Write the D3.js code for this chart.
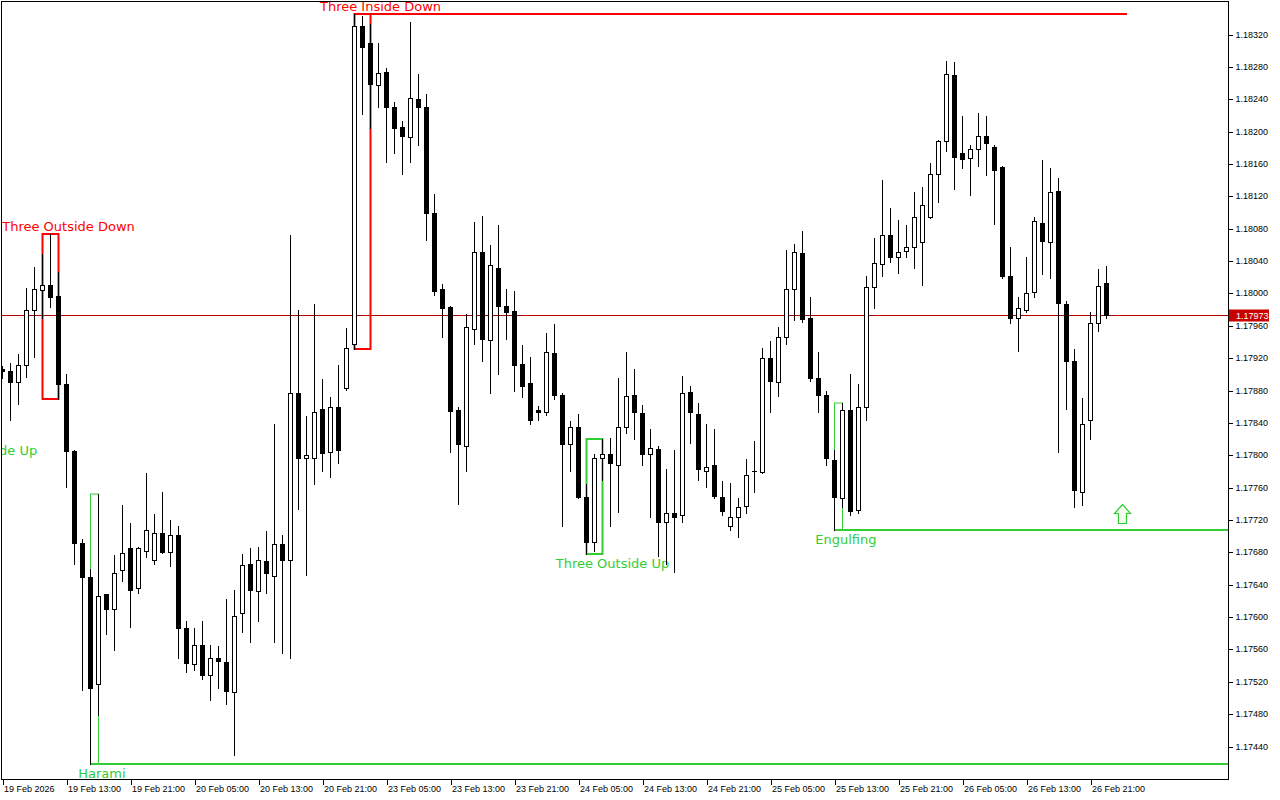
<!DOCTYPE html>
<html>
<head>
<meta charset="utf-8">
<script src="https://cdn.jsdelivr.net/npm/d3@7"></script>
<style>
  body { margin: 0; background: #fff; }
  svg { display: block; }
</style>
</head>
<body>
<svg id="chart"></svg>
<script>
"use strict";

// EURUSD H1, 19 Feb 05:00 .. 26 Feb 23:00 (139 bars)
var opens = [
  1.17907, 1.17904, 1.17890, 1.17912, 1.17979, 1.18004, 1.18010, 1.17997, 1.17888, 1.17805,
  1.17691, 1.17650, 1.17517, 1.17628, 1.17610, 1.17658, 1.17685, 1.17636, 1.17682, 1.17671,
  1.17704, 1.17680, 1.17702, 1.17586, 1.17542, 1.17565, 1.17528, 1.17549, 1.17545, 1.17507,
  1.17605, 1.17665, 1.17632, 1.17669, 1.17651, 1.17690, 1.17671, 1.17877, 1.17796, 1.17797,
  1.17857, 1.17804, 1.17859, 1.17883, 1.17937, 1.18331, 1.18309, 1.18257, 1.18274, 1.18231,
  1.18206, 1.18193, 1.18240, 1.18231, 1.18100, 1.18005, 1.17983, 1.17856, 1.17811, 1.17956,
  1.18051, 1.17943, 1.18032, 1.17984, 1.17978, 1.17913, 1.17889, 1.17856, 1.17854, 1.17926,
  1.17874, 1.17814, 1.17835, 1.17748, 1.17693, 1.17796, 1.17801, 1.17788, 1.17835, 1.17874,
  1.17852, 1.17801, 1.17808, 1.17718, 1.17729, 1.17726, 1.17878, 1.17851, 1.17780, 1.17788,
  1.17748, 1.17713, 1.17724, 1.17737, 1.17780, 1.17779, 1.17920, 1.17891, 1.17946, 1.18006,
  1.18050, 1.17970, 1.17895, 1.17874, 1.17794, 1.17747, 1.17856, 1.17732, 1.17859, 1.18008,
  1.18036, 1.18072, 1.18045, 1.18052, 1.18057, 1.18063, 1.18094, 1.18147, 1.18188, 1.18270,
  1.18173, 1.18167, 1.18179, 1.18194, 1.18181, 1.18156, 1.18022, 1.17969, 1.17979, 1.18002,
  1.18087, 1.18064, 1.18127, 1.17987, 1.17916, 1.17755, 1.17843, 1.17964, 1.18013
];
var highs = [
  1.17910, 1.17914, 1.17925, 1.18007, 1.18033, 1.18049, 1.18074, 1.18026, 1.17900, 1.17806,
  1.17697, 1.17660, 1.17752, 1.17629, 1.17677, 1.17739, 1.17716, 1.17686, 1.17778, 1.17727,
  1.17754, 1.17720, 1.17713, 1.17595, 1.17586, 1.17595, 1.17565, 1.17564, 1.17622, 1.17633,
  1.17678, 1.17685, 1.17686, 1.17706, 1.17839, 1.17701, 1.18072, 1.17980, 1.17848, 1.17987,
  1.17894, 1.17872, 1.17911, 1.17957, 1.18345, 1.18343, 1.18333, 1.18309, 1.18278, 1.18236,
  1.18213, 1.18335, 1.18271, 1.18246, 1.18123, 1.18012, 1.17984, 1.17859, 1.17975, 1.18088,
  1.18096, 1.18060, 1.18085, 1.18006, 1.18003, 1.17936, 1.17921, 1.17861, 1.17951, 1.17962,
  1.17877, 1.17842, 1.17851, 1.17764, 1.17802, 1.17820, 1.17821, 1.17895, 1.17927, 1.17907,
  1.17862, 1.17832, 1.17812, 1.17783, 1.17806, 1.17898, 1.17886, 1.17865, 1.17839, 1.17832,
  1.17768, 1.17766, 1.17747, 1.17795, 1.17818, 1.17932, 1.17941, 1.17958, 1.18054, 1.18061,
  1.18077, 1.17995, 1.17927, 1.17880, 1.17807, 1.17864, 1.17900, 1.17888, 1.18022, 1.18068,
  1.18140, 1.18106, 1.18091, 1.18085, 1.18125, 1.18132, 1.18161, 1.18190, 1.18287, 1.18286,
  1.18219, 1.18183, 1.18223, 1.18219, 1.18183, 1.18157, 1.18057, 1.17996, 1.18045, 1.18094,
  1.18165, 1.18155, 1.18143, 1.17991, 1.17931, 1.17871, 1.17977, 1.18030, 1.18034
];
var lows = [
  1.17895, 1.17844, 1.17863, 1.17897, 1.17922, 1.17969, 1.17983, 1.17870, 1.17761, 1.17665,
  1.17510, 1.17418, 1.17479, 1.17579, 1.17559, 1.17644, 1.17588, 1.17630, 1.17674, 1.17665,
  1.17679, 1.17663, 1.17549, 1.17532, 1.17534, 1.17523, 1.17498, 1.17512, 1.17493, 1.17430,
  1.17581, 1.17569, 1.17595, 1.17630, 1.17569, 1.17556, 1.17549, 1.17733, 1.17652, 1.17765,
  1.17781, 1.17773, 1.17791, 1.17881, 1.17931, 1.18222, 1.18204, 1.18230, 1.18163, 1.18174,
  1.18147, 1.18163, 1.18184, 1.18066, 1.17998, 1.17946, 1.17804, 1.17740, 1.17780, 1.17937,
  1.17917, 1.17877, 1.17901, 1.17944, 1.17880, 1.17872, 1.17839, 1.17844, 1.17850, 1.17870,
  1.17712, 1.17780, 1.17747, 1.17678, 1.17682, 1.17769, 1.17712, 1.17730, 1.17828, 1.17820,
  1.17788, 1.17724, 1.17676, 1.17666, 1.17656, 1.17717, 1.17815, 1.17769, 1.17761, 1.17747,
  1.17726, 1.17708, 1.17699, 1.17729, 1.17755, 1.17778, 1.17853, 1.17873, 1.17937, 1.17967,
  1.17965, 1.17892, 1.17853, 1.17788, 1.17708, 1.17736, 1.17726, 1.17728, 1.17844, 1.17982,
  1.18022, 1.18039, 1.18025, 1.18045, 1.18031, 1.18011, 1.18093, 1.18113, 1.18176, 1.18129,
  1.18155, 1.18122, 1.18157, 1.18146, 1.18086, 1.18019, 1.17964, 1.17929, 1.17977, 1.17996,
  1.18024, 1.18019, 1.17804, 1.17857, 1.17736, 1.17738, 1.17820, 1.17954, 1.17969
];
var closes = [
  1.17904, 1.17891, 1.17912, 1.17979, 1.18006, 1.18010, 1.17995, 1.17888, 1.17805, 1.17691,
  1.17650, 1.17512, 1.17626, 1.17610, 1.17655, 1.17679, 1.17633, 1.17685, 1.17707, 1.17704,
  1.17680, 1.17701, 1.17586, 1.17543, 1.17565, 1.17528, 1.17549, 1.17546, 1.17508, 1.17601,
  1.17664, 1.17634, 1.17671, 1.17654, 1.17690, 1.17670, 1.17877, 1.17797, 1.17800, 1.17854,
  1.17803, 1.17859, 1.17807, 1.17933, 1.18331, 1.18305, 1.18259, 1.18272, 1.18231, 1.18205,
  1.18194, 1.18242, 1.18231, 1.18100, 1.18003, 1.17982, 1.17855, 1.17814, 1.17958, 1.18051,
  1.17944, 1.18035, 1.17984, 1.17977, 1.17912, 1.17885, 1.17843, 1.17853, 1.17927, 1.17875,
  1.17814, 1.17835, 1.17748, 1.17693, 1.17796, 1.17801, 1.17790, 1.17835, 1.17873, 1.17853,
  1.17802, 1.17809, 1.17718, 1.17729, 1.17724, 1.17877, 1.17853, 1.17783, 1.17785, 1.17749,
  1.17731, 1.17724, 1.17736, 1.17775, 1.17781, 1.17920, 1.17892, 1.17946, 1.18005, 1.18051,
  1.17968, 1.17896, 1.17874, 1.17796, 1.17748, 1.17856, 1.17731, 1.17859, 1.18008, 1.18037,
  1.18072, 1.18045, 1.18051, 1.18057, 1.18095, 1.18109, 1.18147, 1.18188, 1.18271, 1.18169,
  1.18166, 1.18179, 1.18194, 1.18186, 1.18153, 1.18022, 1.17969, 1.17982, 1.18000, 1.18089,
  1.18065, 1.18125, 1.17988, 1.17916, 1.17757, 1.17839, 1.17964, 1.18009, 1.17973
];

var timeTickBars = [0, 8, 16, 24, 32, 40, 48, 56, 64, 72, 80, 88, 96, 104, 112, 120, 128, 136];
var timeTickLabels = [
  "19 Feb 2026", "19 Feb 13:00", "19 Feb 21:00", "20 Feb 05:00", "20 Feb 13:00", "20 Feb 21:00",
  "23 Feb 05:00", "23 Feb 13:00", "23 Feb 21:00", "24 Feb 05:00", "24 Feb 13:00", "24 Feb 21:00",
  "25 Feb 05:00", "25 Feb 13:00", "25 Feb 21:00", "26 Feb 05:00", "26 Feb 13:00", "26 Feb 21:00"
];
var priceTicks = [
  1.17440, 1.17480, 1.17520, 1.17560, 1.17600, 1.17640, 1.17680, 1.17720, 1.17760, 1.17800,
  1.17840, 1.17880, 1.17920, 1.17960, 1.18000, 1.18040, 1.18080, 1.18120, 1.18160, 1.18200,
  1.18240, 1.18280, 1.18320
];

// candlestick patterns found by the indicator (bar indexes; negative = left of view)
var patterns = [
  { name: "Three Outside Up", from: -6, to: -4, bull: true, low: 1.17818 },
  { name: "Three Outside Down", from: 5, to: 7, bull: false },
  { name: "Harami", from: 11, to: 12, bull: true, levelTo: Infinity },
  { name: "Three Inside Down", from: 44, to: 46, bull: false, levelTo: 140 },
  { name: "Three Outside Up", from: 73, to: 75, bull: true },
  { name: "Engulfing", from: 104, to: 105, bull: true, levelTo: Infinity }
];
var signalArrows = [{ bar: 140, price: 1.17708 }];
var lastPrice = closes[closes.length - 1];

var width = 1280;
var height = 800;
var plot = { left: 2, top: 2, right: 1228, bottom: 779 };
var red = "#ff0000";
var green = "#32cd32";

var svg = d3.select("#chart").attr("width", width).attr("height", height);

var x = d3.scaleLinear().domain([0, 1]).range([2.5, 10.5]);
var y = d3.scaleLinear().domain([1.17440, 1.18320]).range([746.5, 34.5]);
function py(v) { return Math.round(y(v)); }

var bars = d3.range(opens.length).map(function (i) {
  return { i: i, o: opens[i], h: highs[i], l: lows[i], c: closes[i] };
});

svg.append("defs").append("clipPath").attr("id", "plotClip")
  .append("rect")
  .attr("x", plot.left).attr("y", plot.top)
  .attr("width", plot.right - plot.left).attr("height", plot.bottom - plot.top);

var G = svg.append("g").attr("clip-path", "url(#plotClip)");

// current bid line
G.append("line")
  .attr("x1", plot.left).attr("x2", plot.right)
  .attr("y1", py(lastPrice) + 0.5).attr("y2", py(lastPrice) + 0.5)
  .attr("stroke", "#b40000").attr("stroke-width", 1);

// pattern boxes and levels
patterns.forEach(function (p) {
  var color = p.bull ? green : red;
  var n = p.to - p.from;
  var hi, lo;
  if (p.from >= 0) {
    hi = d3.max(highs.slice(p.from, p.to + 1));
    lo = d3.min(lows.slice(p.from, p.to + 1));
    G.append("rect")
      .attr("x", x(p.from)).attr("y", py(hi))
      .attr("width", x(p.to) - x(p.from)).attr("height", py(lo) - py(hi))
      .attr("fill", "none").attr("stroke", color)
      .attr("stroke-width", n === 2 ? 2 : 1);
    if (p.levelTo !== undefined) {
      var lv = p.bull ? lo : hi;
      var xEnd = p.levelTo === Infinity ? plot.right : x(p.levelTo) + 4.5;
      G.append("line")
        .attr("x1", x(p.from)).attr("x2", xEnd)
        .attr("y1", py(lv)).attr("y2", py(lv))
        .attr("stroke", color).attr("stroke-width", 2);
    }
  } else {
    lo = p.low;
  }
  var cx = x(p.from) + (n === 2 ? 26 : 11.4);
  G.append("text")
    .attr("x", cx)
    .attr("y", p.bull ? py(lo) + 14 : py(hi) - 3)
    .attr("text-anchor", "middle")
    .attr("font-family", "DejaVu Sans, sans-serif")
    .attr("font-size", 13)
    .attr("fill", color)
    .text(p.name);
});

// candles
var candle = G.append("g").attr("shape-rendering", "crispEdges")
  .selectAll("g").data(bars).enter().append("g");

candle.append("rect")
  .attr("x", function (d) { return x(d.i) - 0.5; })
  .attr("y", function (d) { return py(d.h); })
  .attr("width", 1)
  .attr("height", function (d) { return py(d.l) - py(d.h) + 1; })
  .attr("fill", "#000");

candle.append("rect")
  .attr("x", function (d) { return x(d.i) - 2.5; })
  .attr("y", function (d) { return py(Math.max(d.o, d.c)); })
  .attr("width", 5)
  .attr("height", function (d) { return Math.max(1, py(Math.min(d.o, d.c)) - py(Math.max(d.o, d.c)) + 1); })
  .attr("fill", "#000");

candle.filter(function (d) {
  return d.c >= d.o && py(d.o) - py(d.c) >= 2;
}).append("rect")
  .attr("x", function (d) { return x(d.i) - 1.5; })
  .attr("y", function (d) { return py(d.c) + 1; })
  .attr("width", 3)
  .attr("height", function (d) { return py(d.o) - py(d.c) - 1; })
  .attr("fill", "#fff");

// signal arrows
signalArrows.forEach(function (a) {
  var cx = x(a.bar);
  var b = py(a.price) - 6.5;
  var pts = [[cx, b - 19], [cx + 8, b - 10], [cx + 4, b - 10], [cx + 4, b],
             [cx - 4, b], [cx - 4, b - 10], [cx - 8, b - 10]];
  G.append("polygon")
    .attr("points", pts.map(function (q) { return q.join(","); }).join(" "))
    .attr("fill", "#f4fff0").attr("stroke", green).attr("stroke-width", 1.2);
});

// frame
svg.append("rect")
  .attr("x", 1.5).attr("y", 1.5)
  .attr("width", plot.right - 1).attr("height", plot.bottom - 1)
  .attr("fill", "none").attr("stroke", "#000").attr("stroke-width", 1)
  .attr("shape-rendering", "crispEdges");

// price axis
var yAxis = svg.append("g")
  .attr("transform", "translate(" + (plot.right + 0.5) + ",0)")
  .call(d3.axisRight(y).tickValues(priceTicks).tickFormat(d3.format(".5f")).tickSize(4).tickPadding(3));
yAxis.select(".domain").remove();
yAxis.selectAll(".tick").attr("transform", function (d) { return "translate(0," + (py(d) + 0.5) + ")"; });
yAxis.selectAll("text").attr("font-family", "Liberation Sans, Arial, sans-serif").attr("font-size", 9).attr("fill", "#000");
yAxis.selectAll("line").attr("stroke", "#000").attr("shape-rendering", "crispEdges");

// time axis
var xAxis = svg.append("g")
  .attr("transform", "translate(0," + (plot.bottom + 0.5) + ")")
  .call(d3.axisBottom(x).tickValues(timeTickBars).tickFormat(function (d, i) { return timeTickLabels[i]; }).tickSize(5).tickPadding(1));
xAxis.select(".domain").remove();
xAxis.selectAll("text").attr("text-anchor", "start").attr("dx", 1)
  .attr("font-family", "Liberation Sans, Arial, sans-serif").attr("font-size", 9).attr("fill", "#000");
xAxis.selectAll("line").attr("stroke", "#000").attr("shape-rendering", "crispEdges");

// last price tag
svg.append("rect")
  .attr("x", plot.right + 1).attr("y", py(lastPrice) - 5.5)
  .attr("width", 40).attr("height", 12)
  .attr("fill", "#c80000");
svg.append("text")
  .attr("x", plot.right + 8).attr("y", py(lastPrice) + 4)
  .attr("font-family", "Liberation Sans, Arial, sans-serif").attr("font-size", 9)
  .attr("fill", "#fff")
  .text(d3.format(".5f")(lastPrice));
</script>
</body>
</html>
